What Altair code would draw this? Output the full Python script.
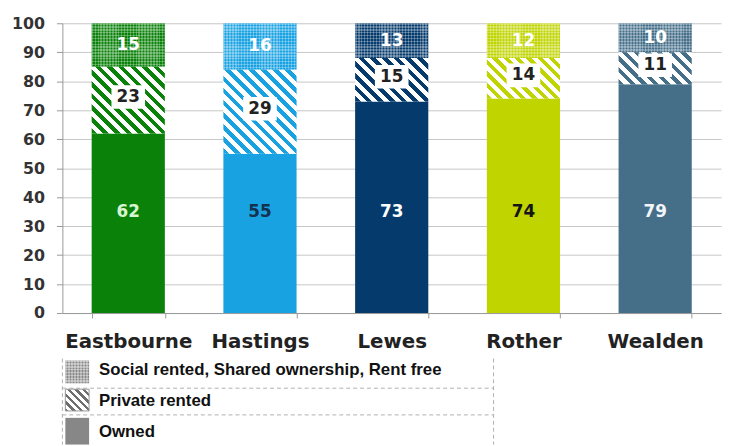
import math
import altair as alt
import pandas as pd

# ---------------- data ----------------
districts = ["Eastbourne", "Hastings", "Lewes", "Rother", "Wealden"]
owned = [62, 55, 73, 74, 79]
private_rented = [23, 29, 15, 14, 11]
social_other = [15, 16, 13, 12, 10]

tenure_labels = ["Social rented, Shared ownership, Rent free", "Private rented", "Owned"]
y_ticks = [0, 10, 20, 30, 40, 50, 60, 70, 80, 90, 100]

# ---------------- styles ----------------
bar_colors = ["#0a820a", "#19a2e2", "#053a6c", "#c0d400", "#456f89"]
owned_label_colors = ["#d8f5d2", "#14324f", "#ffffff", "#151515", "#f2f6fa"]

W, H = 666, 293
PX = H / 100.0
BAR_W = 74
FONT = "DejaVu Sans"

df = pd.DataFrame({
    "district": districts,
    "owned": owned,
    "private": private_rented,
    "social": social_other,
})


def stripe_stops(n, on, off, frac=0.5):
    stops = []
    for k in range(n):
        a = round(k / n, 5)
        b = round((k + frac) / n, 5)
        c = round((k + 1) / n, 5)
        stops += [{"offset": a, "color": on}, {"offset": b, "color": on},
                  {"offset": b, "color": off}, {"offset": c, "color": off}]
    return stops


def diag_hatch(h_px, w_px, pitch, on, off, frac=0.5):
    gx = w_px * (w_px + h_px) / (w_px ** 2 + h_px ** 2)
    span = (w_px + h_px) / math.sqrt(2)
    n = max(1, round(span / pitch))
    return {"gradient": "linear", "x1": 0, "y1": 1, "x2": round(gx, 5),
            "y2": round(1 - gx * h_px / w_px, 5),
            "stops": stripe_stops(n, on, off, frac)}


def straight_stripes(length_px, pitch, on, off, vertical=True, frac=0.5):
    n = max(1, round(length_px / pitch))
    g = {"gradient": "linear", "x1": 0, "y1": 0,
         "x2": 1 if vertical else 0, "y2": 0 if vertical else 1,
         "stops": stripe_stops(n, on, off, frac)}
    return g


x_axis = alt.Axis(title=None, labelAngle=0, labelFont=FONT, labelFontWeight="bold",
                  labelFontSize=20, labelColor="#222", tickBand="extent", tickSize=5,
                  tickColor="#999", domainColor="#999", labelPadding=14, grid=False)
y_axis = alt.Axis(title=None, values=y_ticks, labelFont=FONT, labelFontWeight="bold",
                  labelFontSize=16, labelColor="#333", tickSize=6, tickColor="#999",
                  domainColor="#999", gridColor="#c6c6c6", labelPadding=12,
                  labelOverlap=False)

x_scale = alt.Scale(domain=districts, paddingInner=1 - BAR_W / (W / len(districts)),
                    paddingOuter=(1 - BAR_W / (W / len(districts))) / 2)
y_scale = alt.Scale(domain=[0, 100], clamp=True, nice=False)

X = alt.X("district:N", sort=districts, scale=x_scale, axis=x_axis)


def Y(field):
    return alt.Y(field, scale=y_scale, axis=y_axis)


base = alt.Chart(df).transform_calculate(
    p_top="datum.owned + datum.private",
).transform_calculate(
    s_top="min(100, datum.p_top + datum.social)",
    mid_p="(datum.owned + datum.p_top) / 2",
).transform_calculate(
    mid_s="(datum.p_top + datum.s_top) / 2",
)

district_color = alt.Color("district:N", scale=alt.Scale(domain=districts, range=bar_colors),
                           legend=None)

bottom = base.mark_bar().encode(
    x=X,
    y=alt.Y("owned:Q", scale=y_scale, axis=y_axis, stack=None),
    y2=alt.datum(0),
    color=district_color,
)

top_base = base.mark_bar().encode(
    x=X, y=Y("p_top:Q"), y2="s_top:Q", color=district_color,
)

layers = [bottom, top_base]

# checker texture on the top segments, diagonal hatch on middle segments
for i, d in enumerate(districts):
    s_val = min(100, owned[i] + private_rented[i] + social_other[i]) - owned[i] - private_rented[i]
    h_top = s_val * PX
    vert = straight_stripes(BAR_W, 3, "rgba(255,255,255,0.28)", "rgba(255,255,255,0)", True)
    hori = straight_stripes(h_top, 3, "rgba(255,255,255,0.28)", "rgba(255,255,255,0)", False)
    for g in (vert, hori):
        layers.append(
            base.transform_filter(alt.datum.district == d).mark_bar(fill=g).encode(
                x=X, y=Y("p_top:Q"), y2="s_top:Q"
            )
        )
    h_mid = private_rented[i] * PX
    hatch = diag_hatch(h_mid, BAR_W, 8.5, bar_colors[i], "#ffffff", 0.47)
    layers.append(
        base.transform_filter(alt.datum.district == d).mark_bar(fill=hatch).encode(
            x=X, y=Y("owned:Q"), y2="p_top:Q"
        )
    )

box = base.mark_point(
    shape="M-1,-0.7L1,-0.7L1,0.7L-1,0.7Z", size=34 * 34, filled=True,
    fill="white", opacity=1, strokeWidth=0, yOffset=-3,
).encode(x=X, y=Y("mid_p:Q"))

txt = dict(font=FONT, fontWeight="bold", fontSize=17, baseline="middle", align="center")

lab_top = base.mark_text(color="white", **txt).encode(
    x=X, y=Y("mid_s:Q"), text="social:Q")
lab_mid = base.mark_text(color="#222", dy=-3, **txt).encode(
    x=X, y=Y("mid_p:Q"), text="private:Q")
lab_bot = base.mark_text(**txt).encode(
    x=X, y=alt.YDatum(35, scale=y_scale, axis=y_axis), text="owned:Q",
    color=alt.Color("district:N", scale=alt.Scale(domain=districts, range=owned_label_colors),
                    legend=None),
)

layers += [box, lab_top, lab_mid, lab_bot]

# ---------------- legend table (below the plot) ----------------
one = pd.DataFrame({"k": [0]})
dash = dict(strokeDash=[4, 3], color="#b0b0b0", strokeWidth=1)
LX0, LX1 = 0, 436
layers += [
    alt.Chart(one).mark_rule(**dash).encode(x=alt.value(LX0), y=alt.value(339), y2=alt.value(426)),
    alt.Chart(one).mark_rule(**dash).encode(x=alt.value(LX1), y=alt.value(339), y2=alt.value(426)),
    alt.Chart(one).mark_rule(**dash).encode(x=alt.value(LX0), x2=alt.value(LX1), y=alt.value(369)),
    alt.Chart(one).mark_rule(**dash).encode(x=alt.value(LX0), x2=alt.value(LX1), y=alt.value(396)),
]

sw_x0, sw_x1 = 3, 27
rows = [(341, 364), (370, 392), (399, 426)]
gray = "#878787"
# social swatch: gray with checker texture
layers.append(alt.Chart(one).mark_rect(fill=gray).encode(
    x=alt.value(sw_x0), x2=alt.value(sw_x1), y=alt.value(rows[0][0]), y2=alt.value(rows[0][1])))
for g in (straight_stripes(24, 3, "rgba(255,255,255,0.35)", "rgba(255,255,255,0)", True),
          straight_stripes(23, 3, "rgba(255,255,255,0.35)", "rgba(255,255,255,0)", False)):
    layers.append(alt.Chart(one).mark_rect(fill=g).encode(
        x=alt.value(sw_x0), x2=alt.value(sw_x1), y=alt.value(rows[0][0]), y2=alt.value(rows[0][1])))
# private swatch: hatch
layers.append(alt.Chart(one).mark_rect(
    fill=diag_hatch(22, 24, 5.5, "#6e6e6e", "#ffffff", 0.45), stroke="#999", strokeWidth=1).encode(
    x=alt.value(sw_x0), x2=alt.value(sw_x1), y=alt.value(rows[1][0]), y2=alt.value(rows[1][1])))
# owned swatch: solid
layers.append(alt.Chart(one).mark_rect(fill=gray).encode(
    x=alt.value(sw_x0), x2=alt.value(sw_x1), y=alt.value(rows[2][0]), y2=alt.value(rows[2][1])))

for lab, yc in zip(tenure_labels, [351, 382, 413]):
    layers.append(alt.Chart(pd.DataFrame({"label": [lab]})).mark_text(
        font="Liberation Sans", fontWeight="bold", fontSize=17, color="#111",
        align="left", baseline="middle").encode(
        x=alt.value(37), y=alt.value(yc), text="label:N"))

chart = alt.layer(*layers).resolve_scale(color="independent").properties(
    width=W, height=H,
    autosize=alt.AutoSizeParams(type="none"),
    padding={"left": 55, "top": 13, "right": 2, "bottom": 132},
    background="white",
).configure_view(stroke=None)

chart.save("out.html", embed_options={"renderer": "svg", "actions": False})
